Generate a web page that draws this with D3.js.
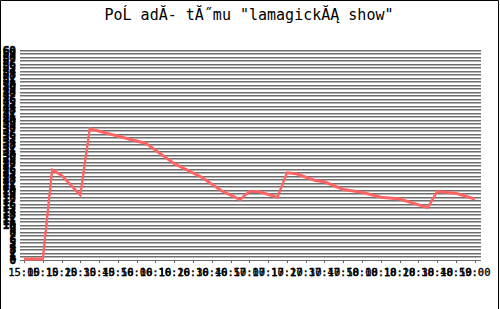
<!DOCTYPE html>
<html><head><meta charset="utf-8">
<script src="https://cdn.jsdelivr.net/npm/d3@7/dist/d3.min.js"></script>
<style>body{margin:0;background:#fff}svg{display:block}</style>
</head><body>
<svg id="c" width="500" height="309"></svg>
<script>
// ---- data ----
const titleText = "PoĹ adĂ- tĂ˝mu \"lamagickĂĄ show\"";
const xTickLabels = ["15:00","15:10","15:20","15:30","15:40","15:50","16:00","16:10","16:20","16:30","16:40","16:50","17:00","17:10","17:20","17:30","17:40","17:50","18:00","18:10","18:20","18:30","18:40","18:50","19:00"];
const times  = ["15:00","15:10","15:15","15:20","15:30","15:35","16:05","16:20","16:35","16:45","16:55","17:00","17:05","17:15","17:20","17:25","17:35","17:40","17:50","18:00","18:10","18:20","18:35","18:40","18:50","19:00"];
const values = [0,0,25.5,24.0,18.3,37.3,33.1,27.3,23.3,19.6,17.0,19.3,19.3,17.7,24.7,24.4,22.5,22.1,19.9,19.1,17.7,17.2,14.7,19.3,18.8,17.2];
const yTickValues = d3.range(0, 61, 1);

// ---- chart ----
const svg = d3.select("#c");
const toMin = s => { const [h,m] = s.split(":").map(Number); return (h-15)*60 + m; };
const plot = {left:20, right:481, top:50, bottom:259.5};
const x = d3.scaleLinear().domain([-2.13, 243.35]).range([plot.left, plot.right]);
const y = d3.scaleLinear().domain([0, 60]).range([plot.bottom, plot.top]);

svg.append("rect").attr("width",500).attr("height",309).attr("fill","#fff");

// gridlines: dark row + lighter row
const grid = svg.append("g").attr("shape-rendering","crispEdges");
grid.selectAll("line.d").data(yTickValues).join("line").attr("class","d")
  .attr("x1", plot.left).attr("x2", plot.right)
  .attr("y1", d => Math.round(y(d)) + 0.5).attr("y2", d => Math.round(y(d)) + 0.5)
  .attr("stroke", "#6e6e6e").attr("stroke-width", 1);
grid.selectAll("line.l").data(yTickValues.slice(1)).join("line").attr("class","l")
  .attr("x1", plot.left).attr("x2", plot.right)
  .attr("y1", d => Math.round(y(d)) + 1.5).attr("y2", d => Math.round(y(d)) + 1.5)
  .attr("stroke", "#b4b4b4").attr("stroke-width", 1);

// y labels (overlapping, as in the reference)
svg.append("g").selectAll("text").data(yTickValues).join("text")
  .attr("x", 16).attr("y", d => Math.round(y(d)) + 4)
  .attr("text-anchor", "end")
  .attr("font-family", "DejaVu Sans Mono, monospace").attr("font-size", 11).attr("font-weight", "bold")
  .attr("fill", "#000").attr("stroke", "#000").attr("stroke-width", 0.6).text(d => d);

// x ticks and labels
const xt = svg.append("g");
xt.selectAll("line").data(xTickLabels).join("line")
  .attr("x1", d => Math.round(x(toMin(d))) + 0.5).attr("x2", d => Math.round(x(toMin(d))) + 0.5)
  .attr("y1", 260).attr("y2", 263).attr("stroke", "#666");
xt.selectAll("text").data(xTickLabels).join("text")
  .attr("x", d => x(toMin(d))).attr("y", 276)
  .attr("text-anchor", "middle")
  .attr("font-family", "DejaVu Sans Mono, monospace").attr("font-size", 10.5)
  .attr("fill", "#000").attr("stroke", "#000").attr("stroke-width", 0.35).text(d => d);

// line (drawn twice, 1px apart vertically)
const pts = times.map((t,i) => [toMin(t), values[i]]);
const line = d3.line().x(d => x(d[0])).y(d => y(d[1]));
[0, -1].forEach(off => {
  svg.append("path").datum(pts).attr("d", line)
    .attr("transform", `translate(0,${off})`)
    .attr("fill", "none").attr("stroke", "#ff6464").attr("stroke-width", 2);
});

// title
svg.append("text").attr("x", 249).attr("y", 20).attr("text-anchor", "middle")
  .attr("font-family", "DejaVu Sans Mono, monospace").attr("font-size", 15)
  .attr("fill", "#000").text(titleText);

// frame (top, left, right)
svg.append("path").attr("d", "M0.5,309 V0.5 H498.5 V309")
  .attr("fill", "none").attr("stroke", "#000").attr("stroke-width", 1);
</script>
</body></html>
